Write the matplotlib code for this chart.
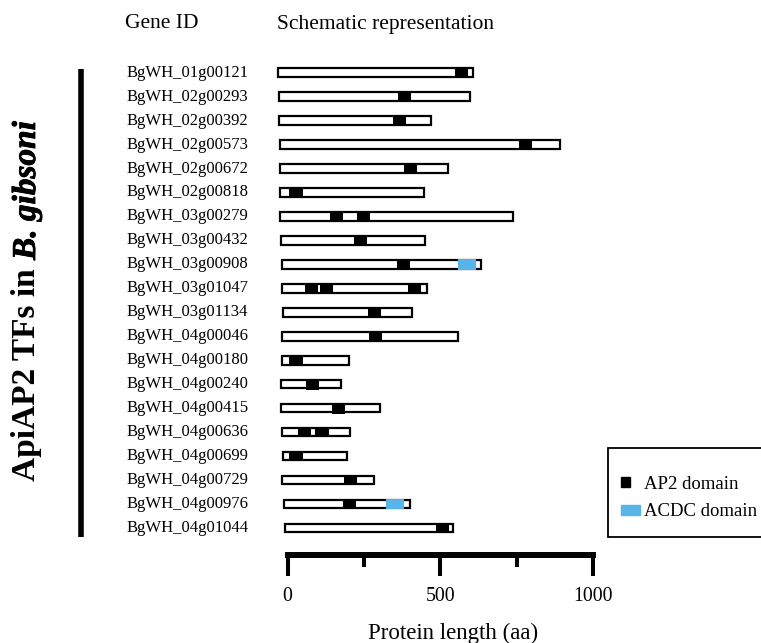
import matplotlib
matplotlib.use("Agg")
import matplotlib.pyplot as plt
import matplotlib.patches as mpatches
import matplotlib.transforms as mtransforms
import matplotlib.patheffects as pe
from matplotlib.lines import Line2D
from matplotlib.legend_handler import HandlerPatch

plt.rcParams["font.family"] = "Liberation Serif"

# ── Data (protein coordinates in aa) ─────────────────────────────
genes = [
    "BgWH_01g00121", "BgWH_02g00293", "BgWH_02g00392", "BgWH_02g00573",
    "BgWH_02g00672", "BgWH_02g00818", "BgWH_03g00279", "BgWH_03g00432",
    "BgWH_03g00908", "BgWH_03g01047", "BgWH_03g01134", "BgWH_04g00046",
    "BgWH_04g00180", "BgWH_04g00240", "BgWH_04g00415", "BgWH_04g00636",
    "BgWH_04g00699", "BgWH_04g00729", "BgWH_04g00976", "BgWH_04g01044",
]

starts = [-31, -29, -28, -25, -24, -25, -25, -22, -17, -17,
          -15, -17, -19, -20, -20, -17, -14, -17, -12, -9]

ends = [607, 597, 468, 891, 524, 446, 738, 450, 633, 456,
        408, 558, 202, 175, 302, 204, 196, 282, 400, 542]

ap2_domains = [
    [(547, 590)],
    [(360, 404)],
    [(344, 388)],
    [(756, 800)],
    [(381, 424)],
    [(6, 50)],
    [(139, 181), (227, 270)],
    [(217, 261)],
    [(357, 401)],
    [(56, 101), (106, 150), (393, 437)],
    [(262, 306)],
    [(266, 309)],
    [(6, 50)],
    [(60, 102)],
    [(146, 188)],
    [(34, 77), (91, 135)],
    [(6, 50)],
    [(185, 228)],
    [(181, 225)],
    [(485, 528)],
]

acdc_domains = {8: [(559, 616)], 18: [(322, 380)]}

C_AP2 = "black"
C_ACDC = "#56B4E9"

W, H = 761, 643
fig = plt.figure(figsize=(W / 100, H / 100), dpi=100)

# axes: x 0..1000 maps to px 287.5..593.3, spine at px 555
ax = fig.add_axes([287.5 / W, 1 - 555 / H, 305.8 / W, 495 / H])
ax.set_xlim(0, 1000)
ax.set_ylim(20.13, -0.53)

bar_h = 0.36
dom_h = bar_h + 0.09   # domains cover the outline too
for i in range(len(genes)):
    ax.add_patch(mpatches.Rectangle((starts[i], i - bar_h / 2), ends[i] - starts[i], bar_h,
                                    facecolor="white", edgecolor="black", linewidth=1.6,
                                    clip_on=False, zorder=2))
    for a, b in ap2_domains[i]:
        ax.add_patch(mpatches.Rectangle((a, i - dom_h / 2), b - a, dom_h,
                                        facecolor=C_AP2, edgecolor="none",
                                        clip_on=False, zorder=3))
    for a, b in acdc_domains.get(i, []):
        ax.add_patch(mpatches.Rectangle((a, i - dom_h / 2), b - a, dom_h,
                                        facecolor=C_ACDC, edgecolor="none",
                                        clip_on=False, zorder=3))

# gene labels
trans = mtransforms.blended_transform_factory(fig.transFigure, ax.transData)
for i, g in enumerate(genes):
    ax.text(127 / W, i, g, transform=trans, ha="left", va="center", fontsize=12)

# scale bar as bottom spine
for s in ["left", "top", "right"]:
    ax.spines[s].set_visible(False)
ax.spines["bottom"].set_linewidth(4.3)
ax.spines["bottom"].set_bounds(0, 1000)
ax.spines["bottom"].set_capstyle("projecting")
ax.set_yticks([])
ax.set_xticks([0, 500, 1000])
ax.set_xticks([250, 750], minor=True)
ax.tick_params(axis="x", which="major", length=15, width=2.9, pad=8, labelsize=14.3)
ax.tick_params(axis="x", which="minor", length=8.4, width=2.9)
ax.set_xlabel("Protein length (aa)", fontsize=16.5)
ax.xaxis.set_label_coords(0.54, -0.136)
ax.patch.set_visible(False)

# headers
fig.text(125 / W, 1 - 24 / H, "Gene ID", fontsize=15.5, ha="left", va="center")
fig.text(277 / W, 1 - 24 / H, "Schematic representation", fontsize=15.5, ha="left", va="center")

# side title (two pieces: upright bold + bold italic) and bracket line
fig.add_artist(Line2D([80.5 / W, 80.5 / W], [1 - 69 / H, 1 - 537 / H],
                      color="black", linewidth=4.0, solid_capstyle="butt"))
t1 = fig.text(35 / W, 1 - 481 / H, "ApiAP2 TFs in ", fontsize=24, fontweight="bold",
              rotation=90, rotation_mode="anchor", ha="left", va="baseline")
renderer = fig.canvas.get_renderer()
bb = t1.get_window_extent(renderer)
fig.text(35 / W, bb.y1 / fig.bbox.height, "B. gibsoni", fontsize=24, fontweight="bold",
         fontstyle="italic", rotation=90, rotation_mode="anchor", ha="left", va="baseline",
         path_effects=[pe.withStroke(linewidth=0.6, foreground="black")])

# legend: frame drawn separately (it runs off the right edge)
fig.add_artist(mpatches.Rectangle((608 / W, 1 - 537 / H), 160 / W, 89 / H,
                                  transform=fig.transFigure, facecolor="white",
                                  edgecolor="black", linewidth=1.3, zorder=1))


def half_box(legend, orig_handle, xdescent, ydescent, width, height, fontsize):
    return mpatches.Rectangle((-xdescent, -ydescent), width * 0.5, height)


ap2_patch = mpatches.Patch(facecolor=C_AP2, edgecolor=C_AP2)
acdc_patch = mpatches.Patch(facecolor=C_ACDC, edgecolor=C_ACDC)
leg = fig.legend([ap2_patch, acdc_patch], ["AP2 domain", "ACDC domain"],
                 handler_map={ap2_patch: HandlerPatch(patch_func=half_box)},
                 loc="upper left", bbox_to_anchor=(621 / W, 1 - 476 / H),
                 bbox_transform=fig.transFigure,
                 fontsize=13.5, frameon=False, handlelength=1.0, handleheight=0.45,
                 handletextpad=0.2, borderpad=0, labelspacing=0.55, borderaxespad=0)
leg.set_zorder(2)

fig.savefig("out.png", dpi=100)
